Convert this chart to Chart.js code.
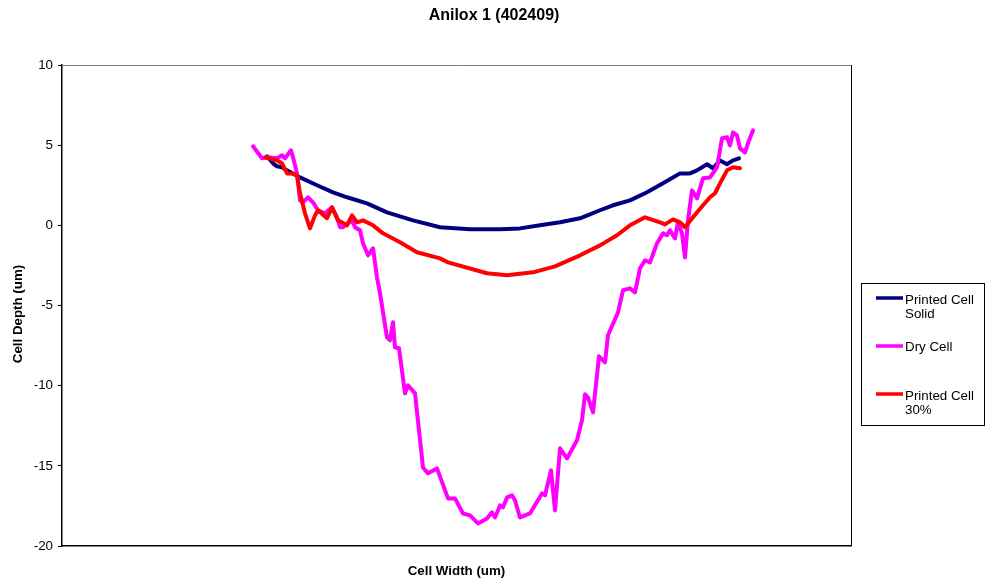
<!DOCTYPE html>
<html>
<head>
<meta charset="utf-8">
<script src="https://cdn.jsdelivr.net/npm/chart.js@4/dist/chart.umd.min.js"></script>
<style>
  html, body { margin: 0; padding: 0; background: #fff; }
  #wrap { width: 985px; height: 584px; }
</style>
</head>
<body>
<div id="wrap"><canvas id="chart" width="985" height="584"></canvas></div>
<script>
// Cell profiles (x is arbitrary width units, y in um)
const solidX = [20.5, 21.1, 21.5, 22.0, 22.5, 23.8, 25.5, 27.1, 28.5, 30.5, 32.5, 35.1, 37.8, 40.8, 43.8,
  45.8, 47.8, 49.8, 51.8, 53.8, 55.1, 56.8, 58.5, 60.1, 61.8, 62.8, 63.5, 64.5, 65.1, 65.8, 66.5, 67.1, 67.7];
const solidY = [4.30, 3.87, 3.68, 3.62, 3.43, 2.99, 2.50, 2.06, 1.75, 1.37, 0.81, 0.31, -0.12, -0.25, -0.25,
  -0.19, 0.00, 0.19, 0.44, 0.94, 1.25, 1.56, 2.06, 2.62, 3.24, 3.24, 3.43, 3.81, 3.56, 4.05, 3.81, 4.05, 4.18];

const dryX = [19.1, 20.0, 20.6, 21.5, 22.0, 22.3, 22.9, 23.1, 23.5, 23.8, 24.1, 24.6, 25.1, 25.6, 26.3,
  27.0, 27.5, 27.8, 28.1, 28.6, 29.0, 29.3, 29.8, 30.1, 30.6, 31.1, 31.5, 31.8, 32.5, 32.8, 33.1, 33.3,
  33.7, 34.3, 34.6, 35.3, 36.1, 36.6, 37.5, 38.6, 39.3, 40.1, 40.8, 41.6, 42.5, 43.0, 43.3, 43.8, 44.1,
  44.5, 45.0, 45.3, 45.8, 46.8, 48.0, 48.3, 48.9, 49.3, 49.8, 50.5, 51.5, 52.0, 52.3, 52.6, 53.1, 53.7,
  54.3, 54.6, 55.6, 56.1, 56.8, 57.3, 57.8, 58.3, 58.8, 59.5, 60.1, 60.5, 60.8, 61.3, 61.6, 62.0, 62.3,
  62.6, 63.0, 63.5, 64.1, 64.8, 65.5, 66.0, 66.5, 66.8, 67.1, 67.5, 67.8, 68.3, 68.6, 69.1];
const dryY = [4.93, 4.18, 4.24, 4.18, 4.37, 4.18, 4.68, 4.24, 3.24, 1.56, 1.43, 1.75, 1.43, 0.94, 0.75,
  1.12, 0.50, -0.12, -0.12, 0.12, 0.31, -0.12, -0.31, -1.12, -1.87, -1.43, -3.24, -4.24, -6.99, -7.17, -6.05, -7.61,
  -7.67, -10.48, -9.98, -10.48, -15.10, -15.47, -15.16, -17.03, -17.03, -17.97, -18.09, -18.59, -18.28, -17.90, -18.22, -17.47, -17.59,
  -16.97, -16.84, -17.16, -18.22, -17.97, -16.72, -16.84, -15.28, -17.78, -13.91, -14.54, -13.41, -12.16, -10.54, -10.73, -11.67, -8.17,
  -8.55, -6.86, -5.43, -4.05, -3.93, -4.18, -2.68, -2.18, -2.31, -1.12, -0.50, -0.62, -0.31, -0.81, 0.19, -0.50, -2.00,
  0.31, 2.18, 1.68, 2.93, 2.99, 3.62, 5.43, 5.49, 4.99, 5.80, 5.61, 4.80, 4.55, 5.12, 5.93];

const print30X = [20.3, 21.5, 22.0, 22.5, 23.0, 23.5, 23.8, 24.3, 24.8, 25.3, 25.6, 26.5, 27.0, 27.6, 28.5,
  29.0, 29.5, 30.1, 31.1, 32.1, 33.8, 35.5, 37.8, 38.6, 42.5, 44.5, 47.1, 49.3, 51.8, 53.8, 55.5, 56.8,
  58.3, 59.8, 60.3, 61.1, 61.8, 62.3, 63.1, 64.1, 64.8, 65.3, 65.8, 66.5, 67.1, 67.8];
const print30Y = [4.24, 4.05, 3.87, 3.24, 3.24, 3.12, 2.00, 0.75, -0.19, 0.62, 0.94, 0.44, 1.12, 0.31, 0.00,
  0.62, 0.19, 0.31, 0.00, -0.50, -1.06, -1.68, -2.06, -2.31, -2.99, -3.12, -2.93, -2.56, -1.87, -1.25, -0.62, 0.00,
  0.50, 0.19, 0.06, 0.37, 0.19, -0.12, 0.50, 1.25, 1.75, 2.00, 2.62, 3.43, 3.62, 3.56];

const yTicks = [10, 5, 0, -5, -10, -15, -20];

const FONT = '"Liberation Sans", Arial, sans-serif';
const NAVY = '#000080';
const MAGENTA = '#ff00ff';
const RED = '#ff0000';

const toPoints = (xs, ys) => xs.map((x, i) => ({ x, y: ys[i] }));

// Title, y-axis label, frame and the boxed legend on the right
const decorations = {
  id: 'decorations',
  afterDraw(chart) {
    const { ctx, chartArea: a } = chart;
    ctx.save();
    // top and right frame lines
    ctx.lineWidth = 1;
    ctx.strokeStyle = '#808080';
    ctx.beginPath();
    ctx.moveTo(a.left, a.top + 0.5);
    ctx.lineTo(a.right, a.top + 0.5);
    ctx.stroke();
    ctx.strokeStyle = '#000';
    ctx.beginPath();
    ctx.moveTo(a.right + 0.5, a.top);
    ctx.lineTo(a.right + 0.5, a.bottom);
    ctx.stroke();

    ctx.fillStyle = '#000';
    ctx.textAlign = 'center';
    ctx.textBaseline = 'middle';
    ctx.font = `bold 16px ${FONT}`;
    ctx.fillText('Anilox 1 (402409)', 494, 16);

    ctx.save();
    ctx.translate(18, 314);
    ctx.rotate(-Math.PI / 2);
    ctx.font = `bold 13.33px ${FONT}`;
    ctx.fillText('Cell Depth (um)', 0, 0);
    ctx.restore();

    // legend box
    ctx.strokeStyle = '#000';
    ctx.lineWidth = 1;
    ctx.strokeRect(861.5, 283.5, 123, 142);
    const items = [
      { color: NAVY, lineY: 298, lines: ['Printed Cell', 'Solid'], textY: 300 },
      { color: MAGENTA, lineY: 346, lines: ['Dry Cell'], textY: 347 },
      { color: RED, lineY: 394, lines: ['Printed Cell', '30%'], textY: 396 },
    ];
    ctx.font = `13.33px ${FONT}`;
    ctx.textAlign = 'left';
    items.forEach((it) => {
      ctx.strokeStyle = it.color;
      ctx.lineWidth = 3.5;
      ctx.beginPath();
      ctx.moveTo(876, it.lineY);
      ctx.lineTo(903, it.lineY);
      ctx.stroke();
      it.lines.forEach((txt, k) => {
        ctx.fillText(txt, 905, it.textY + k * 14);
      });
    });
    ctx.restore();
  },
};

new Chart(document.getElementById('chart'), {
  type: 'line',
  data: {
    datasets: [
      {
        label: 'Printed Cell Solid',
        data: toPoints(solidX, solidY),
        borderColor: NAVY,
        borderWidth: 4,
        order: 2,
      },
      {
        label: 'Dry Cell',
        data: toPoints(dryX, dryY),
        borderColor: MAGENTA,
        borderWidth: 4,
        order: 1,
      },
      {
        label: 'Printed Cell 30%',
        data: toPoints(print30X, print30Y),
        borderColor: RED,
        borderWidth: 4,
        order: 0,
      },
    ],
  },
  options: {
    responsive: false,
    animation: false,
    layout: { padding: { left: 0, right: 134, top: 65, bottom: 0 } },
    elements: {
      point: { radius: 0 },
      line: { tension: 0, borderJoinStyle: 'round', borderCapStyle: 'round' },
    },
    plugins: {
      legend: { display: false },
      title: { display: false },
      tooltip: { enabled: false },
    },
    scales: {
      x: {
        type: 'linear',
        min: 0,
        max: 78.9,
        grid: { drawOnChartArea: false, drawTicks: false },
        border: { display: true, color: '#000', width: 1.5 },
        ticks: { display: false },
        title: {
          display: true,
          text: 'Cell Width (um)',
          color: '#000',
          font: { family: FONT, size: 13.33, weight: 'bold' },
          padding: { top: 4, bottom: 5 },
        },
        afterFit(scale) {
          // eslint-disable-next-line no-param-reassign
          scale.height = 38;
        },
      },
      y: {
        min: -20,
        max: 10,
        grid: { drawOnChartArea: false, drawTicks: true, tickLength: 4, color: '#000' },
        border: { display: true, color: '#000', width: 1.5 },
        ticks: {
          stepSize: 5,
          padding: 5,
          color: '#000',
          font: { family: FONT, size: 13.33 },
          callback: (v) => (yTicks.includes(v) ? String(v) : ''),
        },
        afterFit(scale) {
          // eslint-disable-next-line no-param-reassign
          scale.width = 62;
        },
      },
    },
  },
  plugins: [decorations],
});
</script>
</body>
</html>
